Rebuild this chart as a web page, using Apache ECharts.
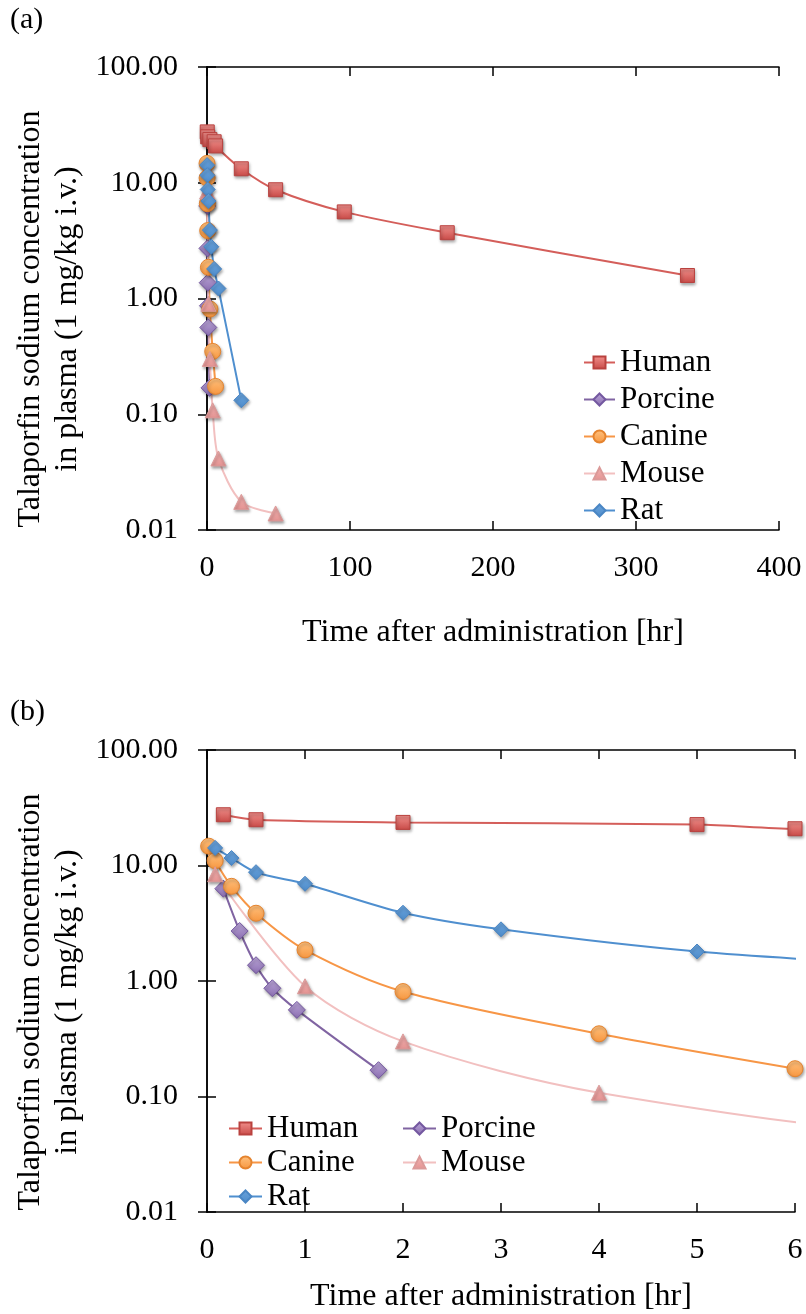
<!DOCTYPE html>
<html>
<head>
<meta charset="utf-8">
<script src="https://cdn.jsdelivr.net/npm/echarts@6/dist/echarts.min.js"></script>
<style>
  html, body { margin: 0; padding: 0; background: #fff; }
  #chart { width: 806px; height: 1314px; }
</style>
</head>
<body>
<div id="chart"></div>
<script>
// sampling times [hr] and plasma concentrations for each species
var humanT = [0.167, 0.5, 2, 5, 6, 24, 48, 96, 168, 336];
var humanC = [27.5, 24.9, 23.6, 22.6, 20.8, 13.2, 8.7, 5.6, 3.7, 1.58];
var porcineT = [0.167, 0.333, 0.5, 0.667, 0.917, 1.75];
var porcineC = [6.3, 2.71, 1.37, 0.865, 0.562, 0.169];
var canineT = [0.017, 0.083, 0.25, 0.5, 1, 2, 4, 6];
var canineC = [14.7, 11.0, 6.6, 3.86, 1.86, 0.81, 0.349, 0.174];
var mouseT = [0.083, 1, 2, 4, 8, 24, 48];
var mouseC = [8.4, 0.9, 0.30, 0.108, 0.0415, 0.0175, 0.0139];
var ratT = [0.083, 0.25, 0.5, 1, 2, 3, 5, 8, 24];
var ratC = [14.2, 11.6, 8.75, 6.95, 3.9, 2.8, 1.8, 1.22, 0.132];

var speciesNames = ['Human', 'Porcine', 'Canine', 'Mouse', 'Rat'];
var yName = 'Talaporfin sodium concentration\nin plasma (1 mg/kg i.v.)';
var xName = 'Time after administration [hr]';

var FONT = '"Liberation Serif", "Times New Roman", serif';

function pairs(t, c) {
    var out = [];
    for (var i = 0; i < t.length; i++) out.push([t[i], c[i]]);
    return out;
}

// marker / line look per species
var looks = {
    Human:   { symbol: 'rect',     size: 14, line: '#D45E5A', top: '#F2918D', bot: '#C84A47', border: '#B9423F' },
    Porcine: { symbol: 'diamond',  size: 17, line: '#8064A2', top: '#BBA7D8', bot: '#8A6DB0', border: '#7458A0' },
    Canine:  { symbol: 'circle',   size: 16, line: '#F79646', top: '#FFC27F', bot: '#F7963F', border: '#E5842F' },
    Mouse:   { symbol: 'triangle', size: 15, line: '#F2C0C0', top: '#F4B3B2', bot: '#E39392', border: '#DB9A99' },
    Rat:     { symbol: 'diamond',  size: 15, line: '#4F8FCF', top: '#6AA3DB', bot: '#4E8CCB', border: '#4A86C4' }
};
var seriesData = {
    Human: pairs(humanT, humanC),
    Porcine: pairs(porcineT, porcineC),
    Canine: pairs(canineT, canineC),
    Mouse: pairs(mouseT, mouseC),
    Rat: pairs(ratT, ratC)
};

function makeSeries(name, gi) {
    var l = looks[name];
    return {
        name: name,
        type: 'line',
        xAxisIndex: gi * 2,
        yAxisIndex: gi * 2,
        data: seriesData[name],
        smooth: 0.3,
        clip: true,
        symbol: l.symbol,
        symbolSize: l.size,
        showAllSymbol: true,
        lineStyle: { color: l.line, width: 2 },
        itemStyle: {
            color: new echarts.graphic.LinearGradient(0, 0, 0, 1, [
                { offset: 0, color: l.top },
                { offset: 1, color: l.bot }
            ]),
            borderColor: l.border,
            borderWidth: 1,
            shadowColor: 'rgba(0,0,0,0.35)',
            shadowBlur: 3,
            shadowOffsetX: 1,
            shadowOffsetY: 2
        },
        emphasis: { disabled: true },
        animation: false
    };
}

var axisLine = { show: true, lineStyle: { color: '#000', width: 1.5 } };
var tickIn = { show: true, inside: true, length: 9, lineStyle: { color: '#000', width: 1.5 } };
var labelFont = { fontFamily: FONT, fontSize: 30, color: '#000' };

function xAxes(gi, max, interval, gap) {
    return [{
        type: 'value', gridIndex: gi, min: 0, max: max, interval: interval,
        position: 'bottom',
        axisLine: axisLine, axisTick: tickIn, splitLine: { show: false },
        axisLabel: Object.assign({ margin: 23 }, labelFont),
        name: xName, nameLocation: 'middle', nameGap: gap,
        nameTextStyle: { fontFamily: FONT, fontSize: 32, color: '#000' }
    }, {
        type: 'value', gridIndex: gi, min: 0, max: max, interval: interval,
        position: 'top',
        axisLine: axisLine, axisTick: tickIn, splitLine: { show: false },
        axisLabel: { show: false }
    }];
}

function yAxes(gi) {
    return [{
        type: 'log', logBase: 10, gridIndex: gi, min: 0.01, max: 100,
        position: 'left',
        axisLine: axisLine, axisTick: tickIn, splitLine: { show: false },
        minorTick: { show: false },
        axisLabel: Object.assign({
            margin: 29,
            formatter: function(v) { return Number(v).toFixed(2); }
        }, labelFont)
    }, {
        type: 'log', logBase: 10, gridIndex: gi, min: 0.01, max: 100,
        position: 'right',
        axisLine: axisLine, axisTick: tickIn, splitLine: { show: false },
        axisLabel: { show: false }
    }];
}

var legendText = { fontFamily: FONT, fontSize: 31, color: '#000', lineHeight: 30 };

var series = [];
speciesNames.forEach(function(n) { series.push(makeSeries(n, 0)); });
speciesNames.forEach(function(n) { series.push(makeSeries(n, 1)); });

var option = {
    backgroundColor: '#fff',
    animation: false,
    grid: [
        { left: 207, top: 67, width: 572, height: 463 },
        { left: 207, top: 750, width: 588, height: 463 }
    ],
    xAxis: xAxes(0, 400, 100, 87).concat(xAxes(1, 6, 1, 69)),
    yAxis: yAxes(0).concat(yAxes(1)),
    legend: [{
        data: speciesNames,
        orient: 'vertical',
        left: 578, top: 342,
        itemWidth: 31, itemHeight: 15, itemGap: 6,
        textStyle: legendText,
        selectedMode: false
    }, {
        data: ['Human', 'Canine', 'Rat'],
        orient: 'vertical',
        left: 223, top: 1108,
        itemWidth: 33, itemHeight: 15, itemGap: 3,
        textStyle: legendText,
        selectedMode: false
    }, {
        data: ['Porcine', 'Mouse'],
        orient: 'vertical',
        left: 397, top: 1108,
        itemWidth: 33, itemHeight: 15, itemGap: 3,
        textStyle: legendText,
        selectedMode: false
    }],
    graphic: [
        { type: 'text', left: 10, top: 5, style: { text: '(a)', font: '30px ' + FONT, fill: '#000' } },
        { type: 'text', left: 10, top: 697, style: { text: '(b)', font: '30px ' + FONT, fill: '#000' } },
        {
            type: 'text', x: 49, y: 319, rotation: Math.PI / 2,
            style: { text: yName, font: '32px ' + FONT, fill: '#000', align: 'center', verticalAlign: 'middle', lineHeight: 37 }
        },
        {
            type: 'text', x: 49, y: 1002, rotation: Math.PI / 2,
            style: { text: yName, font: '32px ' + FONT, fill: '#000', align: 'center', verticalAlign: 'middle', lineHeight: 37 }
        }
    ],
    series: series
};

var myChart = echarts.init(document.getElementById('chart'));
myChart.setOption(option);
</script>
</body>
</html>
